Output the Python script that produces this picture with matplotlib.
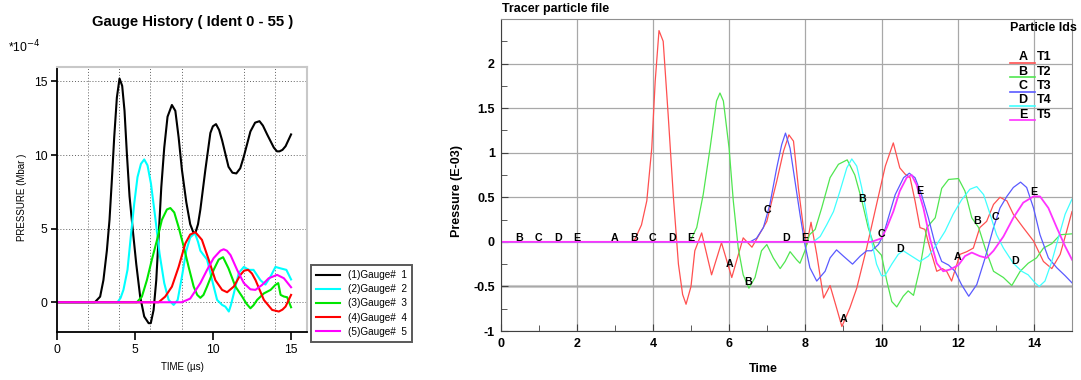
import numpy as np
import matplotlib.pyplot as plt
from matplotlib.lines import Line2D
from matplotlib.ticker import MultipleLocator

plt.rcParams['font.family'] = ['Liberation Sans', 'DejaVu Sans']

# ---- left panel: gauge history (pressure in 1e-4 Mbar, time in us) ----
g1_t = [0, 2.45, 2.79, 3.0, 3.22, 3.39, 3.54, 3.69, 3.86, 4.03, 4.2, 4.35, 4.5, 4.67, 4.88, 5.1,
        5.35, 5.61, 5.89, 6.03, 6.21, 6.38, 6.53, 6.7, 6.89, 7.1, 7.38, 7.6, 7.81, 8.02, 8.3, 8.55,
        8.75, 8.88, 9.05, 9.2, 9.52, 9.84, 10.0, 10.2, 10.4, 10.59, 11.0, 11.25, 11.5, 11.75, 11.98,
        12.4, 12.7, 12.98, 13.2, 13.47, 13.9, 14.1, 14.26, 14.45, 14.65, 15.0]
g1_p = [0, 0, 0.38, 1.5, 3.5, 5.6, 8.3, 11.2, 13.9, 15.2, 14.7, 13.0, 10.1, 7.2, 4.9, 2.6,
        0.38, -0.97, -1.42, -1.42, -0.52, 1.5, 4.45, 7.8, 10.5, 12.6, 13.4, 13.0, 11.2, 9.0, 6.8, 5.3,
        4.75, 4.7, 5.3, 6.3, 9.0, 11.5, 11.95, 12.1, 11.7, 11.0, 9.2, 8.8, 8.75, 9.1, 9.9,
        11.6, 12.2, 12.3, 12.0, 11.4, 10.5, 10.25, 10.25, 10.35, 10.6, 11.4]

g2_t = [0, 3.9, 4.1, 4.28, 4.54, 4.75, 4.97, 5.18, 5.4, 5.61, 5.82, 6.04, 6.31, 6.59, 6.89, 7.17,
        7.49, 7.75, 8.02, 8.3, 8.55, 8.85, 9.05, 9.2, 9.41, 9.63, 9.95, 10.27, 10.59, 10.8, 11.02,
        11.15, 11.34, 11.66, 11.98, 12.3, 12.6, 13.04, 13.36, 13.69, 14.0, 14.33, 14.7, 15.0]
g2_p = [0, 0, 0.3, 0.84, 2.2, 4.45, 6.7, 8.5, 9.4, 9.7, 9.3, 8.06, 5.8, 3.3, 1.3, 0.16,
        -0.18, 0.16, 1.74, 3.5, 4.4, 4.7, 4.1, 3.5, 3.2, 2.9, 1.5, 0.16, -0.18, -0.3, -0.63,
        -0.2, 0.6, 2.0, 2.4, 2.2, 2.2, 1.5, 1.2, 1.75, 2.4, 2.3, 2.2, 1.55]

g3_t = [0, 5.14, 5.46, 5.78, 6.1, 6.42, 6.74, 7.06, 7.28, 7.53, 7.81, 8.13, 8.45, 8.77, 9.0, 9.2,
        9.4, 9.63, 10.05, 10.37, 10.65, 11.0, 11.44, 11.87, 12.15, 12.4, 12.6, 12.83, 13.26, 13.69,
        14.0, 14.18, 14.33, 14.54, 14.75, 15.0]
g3_p = [0, 0, 0.38, 1.5, 2.9, 4.2, 5.6, 6.3, 6.4, 6.1, 5.1, 3.8, 2.4, 1.07, 0.5, 0.3,
        0.5, 1.07, 2.2, 2.9, 3.06, 2.3, 1.07, 0.39, -0.1, -0.41, -0.2, 0.16, 0.6, 0.84,
        1.18, 1.3, 0.5, 0.39, 0.34, -0.34]

g4_t = [0, 6.53, 6.95, 7.38, 7.81, 8.24, 8.55, 8.88, 9.3, 9.73, 10.16, 10.59, 10.91, 11.34, 11.76,
        12.0, 12.26, 12.5, 12.73, 13.26, 13.79, 14.22, 14.45, 14.65, 15.0]
g4_p = [0, 0, 0.38, 1.06, 2.4, 4.0, 4.6, 4.76, 4.24, 2.9, 1.5, 0.84, 0.68, 1.07, 1.86,
        2.15, 2.2, 1.95, 1.5, 0.16, -0.52, -0.63, -0.5, -0.29, 0.5]

g5_t = [0, 8.0, 8.34, 8.55, 8.77, 9.2, 9.63, 10.05, 10.48, 10.69, 10.9, 11.13, 11.55, 11.98, 12.4,
        12.72, 13.15, 13.57, 14.11, 14.54, 15.0]
g5_p = [0, 0, 0.15, 0.25, 0.6, 1.3, 2.2, 3.0, 3.5, 3.6, 3.5, 3.2, 2.2, 1.3, 0.88,
        0.84, 1.18, 1.63, 1.86, 1.63, 1.02]

gauge_labels = ['(1)Gauge#  1', '(2)Gauge#  2', '(3)Gauge#  3', '(4)Gauge#  4', '(5)Gauge#  5']
gauge_colors = ['black', '#00ffff', '#00e600', '#ff0000', '#ff00ff']

# ---- right panel: tracer particles (pressure E-03) ----
t1_t = [0, 3.45, 3.53, 3.7, 3.84, 3.97, 4.06, 4.16, 4.27, 4.4, 4.54, 4.67, 4.78, 4.87, 5.0, 5.1,
        5.28, 5.54, 5.8, 6.07, 6.37, 6.6, 6.99, 7.25, 7.43, 7.57, 7.69, 7.82, 7.95, 8.04, 8.15, 8.3,
        8.48, 8.65, 8.82, 8.96, 9.17, 9.35, 9.61, 9.87, 10.1, 10.31, 10.48, 10.62, 10.75, 10.88,
        11.01, 11.14, 11.27, 11.45, 11.6, 11.71, 11.84, 12.06, 12.24, 12.41, 12.58, 12.76, 12.94,
        13.11, 13.29, 13.46, 13.72, 13.99, 14.25, 14.47, 14.69, 14.86, 15.0]
t1_p = [0, 0, 0.03, 0.19, 0.46, 1.05, 1.8, 2.37, 2.25, 1.43, 0.49, -0.25, -0.59, -0.7, -0.5, -0.1,
        0.1, -0.37, -0.01, -0.4, 0.045, -0.06, 0.23, 0.68, 1.02, 1.2, 1.13, 0.6, 0.16, -0.03, 0.22, -0.14,
        -0.63, -0.49, -0.74, -0.95, -0.74, -0.52, -0.07, 0.42, 0.85, 1.11, 0.83, 0.76, 0.72, 0.46,
        0.16, 0.14, -0.07, -0.33, -0.3, -0.33, -0.44, -0.14, -0.11, -0.07, 0.16, 0.23, 0.42,
        0.5, 0.46, 0.31, 0.16, 0.01, -0.22, -0.3, -0.14, 0.12, 0.34]

t2_t = [0, 4.97, 5.15, 5.32, 5.5, 5.67, 5.76, 5.85, 6.0, 6.11, 6.24, 6.37, 6.52, 6.68, 6.85, 6.99,
        7.16, 7.34, 7.47, 7.6, 7.77, 7.86, 7.99, 8.11, 8.26, 8.43, 8.65, 8.87, 9.1, 9.3, 9.48, 9.65,
        9.83, 10.0, 10.14, 10.27, 10.4, 10.57, 10.7, 10.84, 11.01, 11.19, 11.41, 11.58, 11.76, 12.02,
        12.19, 12.37, 12.55, 12.72, 12.94, 13.2, 13.42, 13.64, 13.85, 14.07, 14.25, 14.47, 14.69, 15.0]
t2_p = [0, 0, 0.16, 0.53, 1.05, 1.58, 1.67, 1.58, 1.05, 0.46, -0.07, -0.37, -0.52, -0.4, -0.1, -0.03,
        -0.18, -0.3, -0.22, -0.11, -0.2, -0.24, -0.1, 0.08, 0.14, 0.38, 0.72, 0.87, 0.92, 0.75, 0.47, 0.16,
        -0.07, -0.15, -0.44, -0.67, -0.73, -0.61, -0.55, -0.6, -0.29, 0.16, 0.27, 0.6, 0.7, 0.71,
        0.57, 0.27, 0.16, -0.07, -0.33, -0.4, -0.49, -0.33, -0.24, -0.18, -0.07, -0.02, 0.08, 0.09]

t3_t = [0, 6.55, 6.72, 6.9, 7.07, 7.25, 7.38, 7.48, 7.6, 7.73, 7.86, 7.99, 8.12, 8.3, 8.52, 8.65,
        8.82, 9.0, 9.24, 9.44, 9.61, 9.74, 9.92, 10.05, 10.2, 10.36, 10.58, 10.73, 10.88, 11.05,
        11.23, 11.41, 11.58, 11.76, 11.93, 12.1, 12.29, 12.5, 12.72, 12.94, 13.11, 13.29, 13.46,
        13.65, 13.81, 13.99, 14.16, 14.38, 14.6, 14.82, 15.0]
t3_p = [0, 0, 0.04, 0.16, 0.42, 0.83, 1.09, 1.22, 1.05, 0.68, 0.31, -0.03, -0.29, -0.44, -0.33, -0.18,
        -0.09, -0.16, -0.25, -0.16, -0.1, -0.1, -0.03, 0.08, 0.3, 0.53, 0.72, 0.77, 0.72, 0.53,
        0.27, -0.03, -0.22, -0.26, -0.33, -0.48, -0.61, -0.48, -0.18, 0.16, 0.38, 0.51, 0.61,
        0.67, 0.61, 0.38, 0.08, -0.18, -0.29, -0.38, -0.46]

t4_t = [0, 8.21, 8.39, 8.56, 8.74, 8.91, 9.09, 9.22, 9.35, 9.48, 9.61, 9.74, 9.87, 10.0, 10.09,
        10.27, 10.44, 10.57, 10.79, 11.01, 11.23, 11.45, 11.67, 11.88, 12.1, 12.32, 12.5, 12.68,
        12.85, 13.02, 13.2, 13.46, 13.68, 13.85, 14.03, 14.14, 14.29, 14.47, 14.64, 14.82, 15.0]
t4_p = [0, 0, 0.06, 0.19, 0.34, 0.57, 0.83, 0.93, 0.85, 0.61, 0.31, 0.01, -0.25, -0.38, -0.38,
        -0.25, -0.14, -0.1, -0.16, -0.22, -0.16, -0.03, 0.12, 0.31, 0.47, 0.59, 0.62, 0.53,
        0.31, 0.08, -0.07, -0.24, -0.33, -0.37, -0.46, -0.5, -0.44, -0.22, 0.04, 0.31, 0.48]

t5_t = [0, 9.74, 10.0, 10.14, 10.31, 10.48, 10.66, 10.79, 10.92, 11.1, 11.27, 11.45, 11.62, 11.8,
        12.02, 12.19, 12.37, 12.58, 12.76, 12.94, 13.2, 13.46, 13.72, 13.99, 14.16, 14.38, 14.6,
        14.82, 15.0]
t5_p = [0, 0, 0.04, 0.16, 0.34, 0.57, 0.72, 0.75, 0.64, 0.38, 0.04, -0.24, -0.33, -0.31,
        -0.26, -0.16, -0.12, -0.16, -0.18, -0.1, 0.06, 0.27, 0.44, 0.51, 0.51, 0.38, 0.16,
        -0.05, -0.2]

tracer_letters = ['A', 'B', 'C', 'D', 'E']
tracer_names = ['T1', 'T2', 'T3', 'T4', 'T5']
tracer_colors = ['#ff5050', '#50e650', '#5a5aff', '#40ffff', '#ff33ff']

right_yticks = [-1, -0.5, 0, 0.5, 1, 1.5, 2]
right_yticklabels = ['-1', '-0.5', '0', '0.5', '1', '1.5', '2']

W, H = 1081, 380
fig = plt.figure(figsize=(W / 100, H / 100), dpi=100)


def fx(px):
    return px / W


def fy(py):
    return 1 - py / H


# ================= left panel =================
ax1 = fig.add_axes([fx(56.5), fy(331.7), fx(306.7 - 56.5), (331.7 - 66.7) / H])
gauges = [(g1_t, g1_p), (g2_t, g2_p), (g3_t, g3_p), (g4_t, g4_p), (g5_t, g5_p)]
for (tt, pp), lab, col in zip(gauges, gauge_labels, gauge_colors):
    ax1.plot(tt, pp, color=col, lw=1.5, label=lab, solid_joinstyle='round')

ax1.set_xlim(0, 16)
ax1.set_ylim(-2, 16)
ax1.set_xticks([0, 5, 10, 15])
ax1.set_yticks([0, 5, 10, 15])
ax1.set_xticks(np.arange(2, 16, 2), minor=True)
ax1.tick_params(which='minor', length=0)
ax1.tick_params(which='major', direction='out', labelsize=8.7, width=1.2)
ax1.tick_params(axis='x', length=5.5, pad=3)
ax1.tick_params(axis='y', length=4.5, pad=2)
ax1.grid(which='minor', axis='x', ls=(0, (1, 2)), color='#606060', lw=0.7)
ax1.grid(which='major', axis='y', ls=(0, (1, 2)), color='#606060', lw=0.7)
ax1.grid(which='major', axis='x', visible=False)
for s in ['left', 'bottom']:
    ax1.spines[s].set_linewidth(1.3)
for s in ['top', 'right']:
    ax1.spines[s].set_color('#c8c8c8')
    ax1.spines[s].set_linewidth(1.5)

fig.text(fx(193), fy(21.7), 'Gauge History ( Ident 0 - 55 )', ha='center', va='center',
         fontsize=10.7, fontweight='bold')
fig.text(fx(8), fy(52), r'*10$^{-4}$', ha='left', va='baseline', fontsize=8.7)
fig.text(fx(21.7), fy(197), 'PRESSURE (Mbar )', rotation=90, ha='center', va='center', fontsize=7)
fig.text(fx(182), fy(367), 'TIME (µs)', ha='center', va='center', fontsize=7)

leg = fig.legend(loc='upper left', bbox_to_anchor=(fx(311), fy(265)), borderaxespad=0,
                 fontsize=7.2, frameon=True, fancybox=False, handlelength=2.4, handletextpad=0.8,
                 labelspacing=0.42, borderpad=0.5)
leg.get_frame().set_edgecolor('#303030')
leg.get_frame().set_linewidth(1.4)

# ================= right panel =================
ax2 = fig.add_axes([fx(500.5), fy(331), fx(1072 - 500.5), (331 - 19) / H])
tracers = [(t1_t, t1_p), (t2_t, t2_p), (t3_t, t3_p), (t4_t, t4_p), (t5_t, t5_p)]
for (tt, pp), col in zip(tracers, tracer_colors):
    ax2.plot(tt, pp, color=col, lw=0.9)
# the flat start of every track is hidden under the last (magenta) one
ax2.lines[-1].set_linewidth(1.3)

# letter markers along each curve, every 3 time units, staggered by 0.5
for i, ((tt, pp), letter) in enumerate(zip(tracers, tracer_letters)):
    for tm in np.arange(0.5 * i, 15, 3.0):
        if tm <= 0:
            continue
        val = np.interp(tm, tt, pp)
        ax2.annotate(letter, (tm, val), xytext=(0, 3), textcoords='offset points',
                     ha='center', va='center', fontsize=7.7, fontweight='bold')

ax2.set_xlim(0, 15)
ax2.set_ylim(-1, 2.5)
ax2.set_xticks(np.arange(0, 15, 2))
ax2.xaxis.set_minor_locator(MultipleLocator(1))
ax2.set_yticks(right_yticks)
ax2.set_yticklabels(right_yticklabels)
ax2.yaxis.set_minor_locator(MultipleLocator(0.25))
ax2.tick_params(which='both', direction='in', labelsize=9, color='#404040')
ax2.tick_params(which='major', length=5)
ax2.tick_params(which='minor', length=4.5)
ax2.tick_params(axis='x', pad=5)
ax2.tick_params(axis='y', pad=4)
for lab in ax2.get_xticklabels() + ax2.get_yticklabels():
    lab.set_fontweight('bold')
ax2.grid(which='major', color='#a8a8a8', lw=0.9)
ax2.axhline(-0.5, color='#d0d0d0', lw=2.2, zorder=0.5)
ax2.set_axisbelow(True)
for s in ['left', 'bottom']:
    ax2.spines[s].set_color('#404040')
for s in ['top', 'right']:
    ax2.spines[s].set_color('#909090')

fig.text(fx(502.5), fy(9.3), 'Tracer particle file', ha='left', va='center',
         fontsize=9, fontweight='bold')
fig.text(fx(457), fy(191), 'Pressure (E-03)', rotation=90, ha='center', va='center',
         fontsize=9, fontweight='bold')
fig.text(fx(763), fy(369), 'Time', ha='center', va='center', fontsize=9, fontweight='bold')

# particle id key
fig.text(fx(1010), fy(28.3), 'Particle Ids', ha='left', va='center', fontsize=9, fontweight='bold')
for i, (letter, name, col) in enumerate(zip(tracer_letters, tracer_names, tracer_colors)):
    yc = 57.3 + 14.35 * i
    fig.text(fx(1023), fy(yc), letter, ha='center', va='center', fontsize=9, fontweight='bold')
    fig.text(fx(1037), fy(yc), name, ha='left', va='center', fontsize=9, fontweight='bold')
    fig.add_artist(Line2D([fx(1010), fx(1035)], [fy(yc + 5.5), fy(yc + 5.5)], color=col, lw=1.2))

fig.savefig('out.png', dpi=100)
